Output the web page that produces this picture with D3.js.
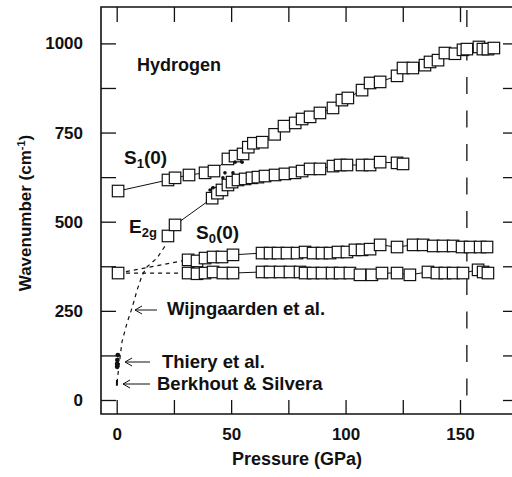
<!DOCTYPE html>
<html>
<head>
<meta charset="utf-8">
<script src="https://cdn.jsdelivr.net/npm/d3@7"></script>
<style>
    body { margin: 0; background: #fff; }
    svg { display: block; font-family: "Liberation Sans", Arial, Helvetica, sans-serif; font-weight: bold; }
</style>
</head>
<body>
<svg id="chart"></svg>
<script>

// Data: [pressure GPa, wavenumber cm-1]
const s1Low = [[0.6, 586], [22.4, 617], [25.5, 623], [31.6, 631], [38.6, 637], [42.5, 642],
    [48.6, 676], [51.7, 684], [55.2, 690], [57.5, 709], [59.7, 720], [63.6, 723], [69.0, 745],
    [73.1, 768], [78.0, 777], [81.0, 788], [84.5, 794], [88.8, 805], [94.5, 819], [98.4, 841],
    [101.0, 847], [107.2, 869], [110.7, 889], [115.1, 892], [122.5, 909], [125.1, 931],
    [129.4, 931], [134.7, 939], [136.9, 948], [140.4, 953], [143.4, 973], [147.8, 971],
    [151.3, 982], [153.0, 984], [158.3, 990], [160.0, 984], [162.2, 984], [164.8, 987]]

const e2g = [[22.4, 460], [25.5, 491], [41.7, 566], [44.0, 580], [46.0, 589], [48.6, 603],
    [50.4, 611], [53.0, 617], [56.1, 620], [59.1, 623], [61.7, 625], [64.8, 628], [69.2, 631],
    [73.5, 634], [77.9, 637], [81.0, 642], [84.5, 648], [88.8, 648], [94.5, 656], [97.6, 659],
    [100.6, 659], [107.2, 659], [110.7, 659], [115.1, 667], [122.5, 665], [125.1, 662]]

const s0Upper = [[31.2, 393], [35.1, 390], [38.6, 398], [42.1, 401], [46.0, 401], [50.8, 407],
    [63.5, 412], [67.0, 412], [70.5, 412], [74.4, 412], [78.8, 412], [82.3, 415], [85.8, 412],
    [89.7, 412], [93.2, 412], [96.7, 415], [100.6, 415], [104.1, 421], [107.2, 421], [110.7, 423],
    [115.1, 435], [122.5, 429], [129.5, 435], [133.9, 435], [138.3, 432], [142.6, 432],
    [147.0, 432], [150.9, 429], [154.4, 429], [158.8, 429], [161.8, 429]]

const s0Lower = [[31.2, 356], [35.1, 354], [38.6, 356], [42.1, 359], [46.4, 356], [50.8, 356],
    [63.5, 359], [67.0, 359], [71.4, 359], [75.7, 359], [80.1, 359], [82.3, 356], [85.8, 356],
    [89.7, 356], [94.1, 356], [97.6, 356], [101.9, 356], [106.3, 351], [111.5, 351], [115.9, 356],
    [122.5, 356], [128.1, 351], [136.0, 359], [139.9, 356], [143.4, 356], [147.0, 356],
    [151.3, 356], [157.9, 365], [160.1, 359], [162.2, 356]]

const s0Zero = [[0.6, 356]]

// small filled points near the crossing
const crossDots = [[40.8, 589], [42.1, 595], [46.4, 623], [47.3, 637], [50.8, 637], [51.7, 667], [54.8, 667]]

// Thiery et al. and Berkhout & Silvera
const thiery = [[0.5, 126], [0.3, 112], [0.2, 101], [0.2, 93]]
const berkhout = [[0.1, 40], [0.1, 56]]

// dotted extrapolations to zero pressure
const e2gDotted = [[0.1, 48], [2.3, 163], [4.5, 216], [6.7, 258], [8.9, 308], [11.1, 350],
    [13.2, 373], [17.6, 398], [22.0, 440]]
const s0DottedUpper = [[0.6, 356], [31.2, 393]]
const s0DottedLower = [[0.6, 356], [31.2, 356]]

const transitionP = 153

const xTicks = [0, 25, 50, 75, 100, 125, 150, 175]
const yTicks = [0, 125, 250, 375, 500, 625, 750, 875, 1000]

const w = 512
const h = 477
const frame = { left: 101, right: 518, top: 7, bottom: 414 }
const ink = "#111"

const svg = d3.select("#chart")
    .attr("width", w)
    .attr("height", h)

//Scales
const x = d3.scaleLinear().domain([0, 150]).range([116.7, 460])
const y = d3.scaleLinear().domain([0, 1000]).range([400, 43.4])

//Axes with inward ticks on all four sides
const bottomAxis = d3.axisBottom(x).tickValues(xTicks).tickSizeInner(-14).tickSizeOuter(0)
    .tickPadding(14).tickFormat(d => d % 50 === 0 && d <= 150 ? d : "")
const topAxis = d3.axisTop(x).tickValues(xTicks).tickSizeInner(-15).tickSizeOuter(0).tickFormat("")
const leftAxis = d3.axisLeft(y).tickValues(yTicks).tickSizeInner(-15).tickSizeOuter(0)
    .tickPadding(18).tickFormat(d => d % 250 === 0 ? d : "")
const rightAxis = d3.axisRight(y).tickValues(yTicks).tickSizeInner(-15).tickSizeOuter(0).tickFormat("")

const axes = [
    [bottomAxis, `translate(0, ${frame.bottom})`],
    [topAxis, `translate(0, ${frame.top})`],
    [leftAxis, `translate(${frame.left}, 0)`],
    [rightAxis, `translate(${frame.right}, 0)`]
]
axes.forEach(([ax, tr]) => {
    const g = svg.append("g").attr("transform", tr).call(ax)
    g.select(".domain").remove()
    g.selectAll(".tick line").attr("stroke", ink).attr("stroke-width", 1.3)
    g.selectAll(".tick text").attr("fill", ink).attr("font-size", 17).attr("font-family", null)
})

//Frame
svg.append("path")
    .attr("d", `M${frame.right},${frame.top}H${frame.left}V${frame.bottom}H${frame.right}`)
    .attr("fill", "none")
    .attr("stroke", ink)
    .attr("stroke-width", 1.6)

//Dashed transition line
svg.append("line")
    .attr("x1", x(transitionP)).attr("x2", x(transitionP))
    .attr("y1", frame.top + 3).attr("y2", frame.bottom - 4)
    .attr("stroke", ink)
    .attr("stroke-width", 1.3)
    .attr("stroke-dasharray", "17,16.5")

const line = d3.line().x(d => x(d[0])).y(d => y(d[1]))

//Dotted extrapolations
;[e2gDotted, s0DottedUpper, s0DottedLower].forEach(d => {
    svg.append("path")
        .attr("d", line(d))
        .attr("fill", "none")
        .attr("stroke", ink)
        .attr("stroke-width", 1.2)
        .attr("stroke-dasharray", "4,4")
})

//Series lines then squares
const series = [s0Lower, s0Upper, e2g, s1Low, s0Zero]
series.forEach(d => {
    svg.append("path")
        .attr("d", line(d))
        .attr("fill", "none")
        .attr("stroke", ink)
        .attr("stroke-width", 1)
})
const sq = 11.5
series.forEach(d => {
    svg.append("g").selectAll("rect")
        .data(d)
        .enter()
        .append("rect")
        .attr("x", p => x(p[0]) - sq / 2)
        .attr("y", p => y(p[1]) - sq / 2)
        .attr("width", sq)
        .attr("height", sq)
        .attr("fill", "#fff")
        .attr("stroke", ink)
        .attr("stroke-width", 1.2)
})

//Filled points
svg.append("g").selectAll("circle")
    .data(crossDots)
    .enter()
    .append("circle")
    .attr("cx", p => x(p[0]))
    .attr("cy", p => y(p[1]))
    .attr("r", 1.8)
    .attr("fill", ink)

svg.append("g").selectAll("circle")
    .data(thiery)
    .enter()
    .append("circle")
    .attr("cx", p => x(p[0]))
    .attr("cy", p => y(p[1]))
    .attr("r", 2.4)
    .attr("fill", ink)

svg.append("path")
    .attr("d", line(berkhout))
    .attr("stroke", ink)
    .attr("stroke-width", 2)

//Labels
svg.append("text")
    .attr("x", 137).attr("y", 71)
    .attr("font-size", 18)
    .attr("fill", ink)
    .text("Hydrogen")

function subLabel(px, py, main, sub, rest) {
    const t = svg.append("text")
        .attr("x", px).attr("y", py)
        .attr("font-size", 19)
        .attr("fill", ink)
    t.append("tspan").text(main)
    t.append("tspan").attr("font-size", 13).attr("dy", 4).text(sub)
    if (rest) t.append("tspan").attr("dy", -4).text(rest)
}
subLabel(124, 164, "S", "1", "(0)")
subLabel(129, 233, "E", "2g")
subLabel(196, 239, "S", "0", "(0)")

function arrowNote(tx, ty, x1, x2, ay, label) {
    svg.append("path")
        .attr("d", `M${x2},${ay}H${x1}M${x1 + 7},${ay - 4}L${x1},${ay}L${x1 + 7},${ay + 4}`)
        .attr("fill", "none")
        .attr("stroke", ink)
        .attr("stroke-width", 1)
    svg.append("text")
        .attr("x", tx).attr("y", ty)
        .attr("font-size", 18.5)
        .attr("fill", ink)
        .text(label)
}
arrowNote(167, 315, 135, 157, 310, "Wijngaarden et al.")
arrowNote(162, 368, 125, 150, 362, "Thiery et al.")
arrowNote(157, 390, 123, 150, 384, "Berkhout & Silvera")

//Axis titles
svg.append("text")
    .attr("x", 297).attr("y", 465)
    .attr("text-anchor", "middle")
    .attr("font-size", 18)
    .attr("fill", ink)
    .text("Pressure (GPa)")

const yTitle = svg.append("text")
    .attr("transform", "translate(31, 213) rotate(-90)")
    .attr("text-anchor", "middle")
    .attr("font-size", 17)
    .attr("fill", ink)
yTitle.append("tspan").text("Wavenumber (cm")
yTitle.append("tspan").attr("font-size", 11).attr("dy", -6).text("-1")
yTitle.append("tspan").attr("dy", 6).text(")")

</script>
</body>
</html>
